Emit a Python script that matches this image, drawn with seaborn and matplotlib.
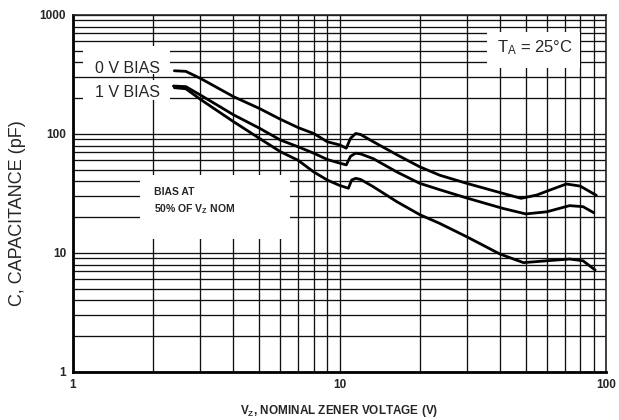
import pandas as pd
import matplotlib.pyplot as plt
import seaborn as sns
from matplotlib.patches import Rectangle
from matplotlib.ticker import FuncFormatter, NullFormatter

sns.set_style("white")
plt.rcParams['font.family'] = ['Liberation Sans', 'DejaVu Sans']

# Curve data (V_Z in volts, C in pF)
vz_0v = [2.4, 2.65, 3, 4, 5, 6, 7, 8, 9, 10, 10.6, 11.0, 11.5, 12.0, 13.4, 16.4,
         20, 23.8, 30, 41, 48, 55, 62, 71, 80, 92]
c_0v = [340, 336, 294, 206, 164, 133, 113, 101, 86, 81, 76, 92, 101, 99, 86, 67,
        53, 45, 38.5, 31.7, 28.8, 30.7, 34, 38, 36.5, 30.5]

vz_1v = [2.38, 2.65, 3, 4, 5, 6, 7, 8, 9, 10, 10.6, 11.0, 11.5, 12.0, 13.4, 16.4,
         20, 23.8, 30, 41, 50, 60, 73, 82, 90]
c_1v = [253, 250, 213, 145, 112, 89, 78, 69, 61, 57, 55, 65, 69, 68, 62, 48,
        38.5, 34, 29, 23.7, 21.3, 22.2, 25, 24.5, 21.8]

vz_half = [2.4, 2.65, 3, 4, 5, 6, 7, 8, 9, 10, 10.8, 11.1, 11.5, 12.0, 13.4, 16.4,
           20, 23.8, 30, 40, 49, 60, 73, 82, 91]
c_half = [245, 240, 196, 127, 92, 71, 60, 48, 41, 37, 35, 41, 42.4, 41.5, 36, 27,
          21, 17.7, 13.7, 9.8, 8.3, 8.6, 8.9, 8.6, 7.2]

curve_names = ["0 V BIAS", "1 V BIAS", "BIAS AT 50% OF VZ NOM"]

df = pd.concat([
    pd.DataFrame({"vz": vz_0v, "c": c_0v, "curve": curve_names[0]}),
    pd.DataFrame({"vz": vz_1v, "c": c_1v, "curve": curve_names[1]}),
    pd.DataFrame({"vz": vz_half, "c": c_half, "curve": curve_names[2]}),
])

fig = plt.figure(figsize=(6.19, 4.2), dpi=100)
ax = fig.add_axes([0.118, 0.1143, 0.861, 0.85])

sns.lineplot(data=df, x="vz", y="c", hue="curve", palette=["black"] * 3,
             sort=False, estimator=None, lw=2.0, legend=False, ax=ax, zorder=3)

ax.set_xscale("log")
ax.set_yscale("log")
ax.set_xlim(1, 100)
ax.set_ylim(1, 1000)

ax.set_axisbelow(True)
ax.grid(which="both", color="#111111", lw=0.95)
ax.tick_params(which="both", length=0, labelsize=8.5, pad=5)
ax.xaxis.set_major_formatter(FuncFormatter(lambda v, p: f"{v:g}"))
ax.yaxis.set_major_formatter(FuncFormatter(lambda v, p: f"{v:g}"))
ax.xaxis.set_minor_formatter(NullFormatter())
ax.yaxis.set_minor_formatter(NullFormatter())
for lab in ax.get_xticklabels() + ax.get_yticklabels():
    lab.set_fontweight("bold")

for side in ["left", "bottom"]:
    ax.spines[side].set_linewidth(2.0)
    ax.spines[side].set_color("black")
for side in ["top", "right"]:
    ax.spines[side].set_linewidth(1.2)
    ax.spines[side].set_color("#222222")

# white label boxes that blank the grid
boxes = [((1.09, 319), 2.31, 549), ((1.09, 193), 2.31, 285),
         ((1.78, 13), 6.5, 45), ((35.8, 359), 79.9, 720)]
for (x0, y0), x1, y1 in boxes:
    ax.add_patch(Rectangle((x0, y0), x1 - x0, y1 - y0, facecolor="white",
                           edgecolor="none", zorder=1.5))

ax.text(1.60, 352, "0 V BIAS", fontsize=11.5, ha="center", va="center", zorder=4)
ax.text(1.60, 223, "1 V BIAS", fontsize=11.5, ha="center", va="center", zorder=4)
ax.text(2.01, 27, "BIAS AT\n50% OF $\\mathregular{V_Z}$ NOM", fontsize=7.5,
        fontweight="bold", ha="left", va="center", linespacing=1.5, zorder=4)
ax.text(54, 530, "$\\mathregular{T_A}$ = 25°C", fontsize=12, ha="center",
        va="center", zorder=4)

ax.set_xlabel("$\\mathregular{V_Z}$, NOMINAL ZENER VOLTAGE (V)", fontsize=8.5,
              fontweight="bold")
ax.set_ylabel("C, CAPACITANCE (pF)", fontsize=13)
ax.xaxis.set_label_coords(0.5, -0.087)
ax.yaxis.set_label_coords(-0.088, 0.445)

fig.savefig("out.png", dpi=100)
